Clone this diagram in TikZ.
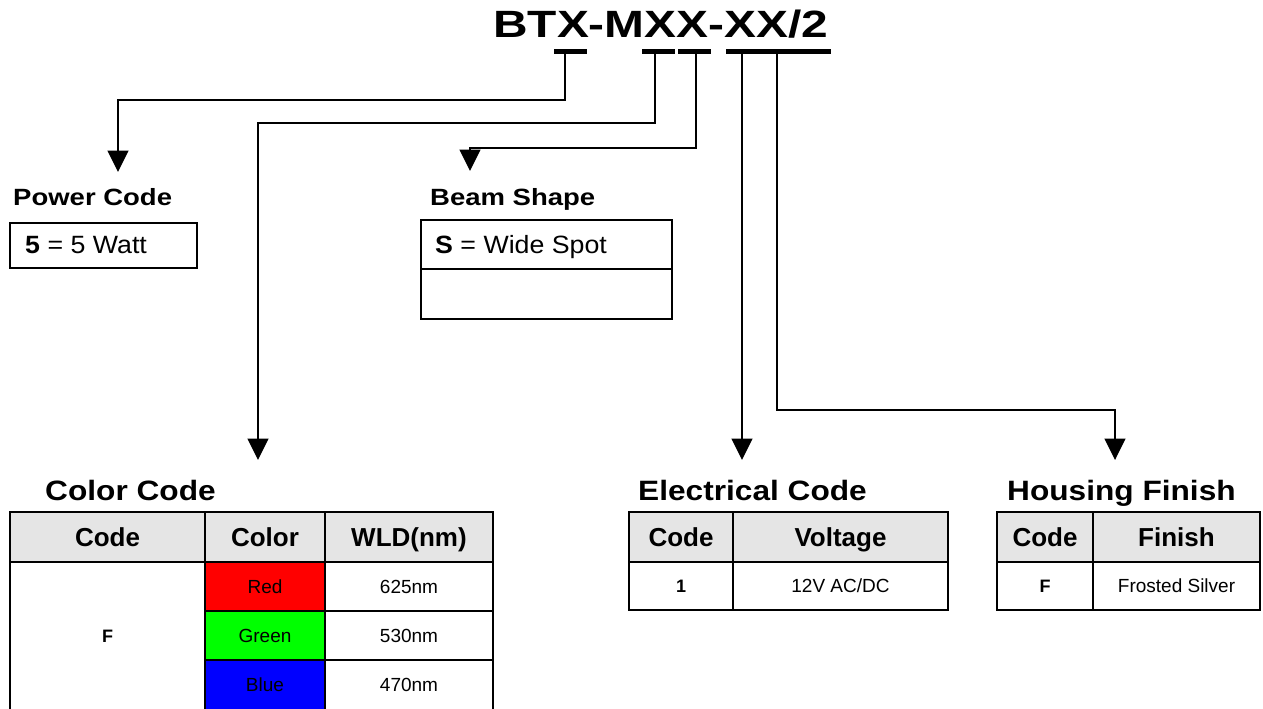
\documentclass[tikz,border=0pt]{standalone}
\usepackage{fontspec}
\setmainfont{Liberation Sans}
\newfontfamily\titlefam[FakeStretch=1.26]{Liberation Sans}
\newfontfamily\headfam[FakeStretch=1.17]{Liberation Sans}
\newfontfamily\bigheadfam[FakeStretch=1.13]{Liberation Sans}
\newfontfamily\boxfam[FakeStretch=1.07]{Liberation Sans}
\usetikzlibrary{arrows.meta}
\begin{document}
\begin{tikzpicture}[x=1pt,y=-1pt,
  conn/.style={line width=1.5pt,-{Triangle[length=21.5pt,width=21pt]}},
  bar/.style={line width=5pt},
  tbl/.style={line width=2.2pt},
  hfill/.style={fill=black!10},
  bigh/.style={anchor=base west,inner sep=0pt,font=\bigheadfam\fontsize{28}{32}\selectfont\bfseries},
  smallh/.style={anchor=base west,inner sep=0pt,font=\headfam\fontsize{23.5}{28}\selectfont\bfseries},
  colh/.style={inner sep=0pt,text height=18.6pt,text depth=0pt,font=\fontsize{26}{30}\selectfont\bfseries},
  cell/.style={inner sep=0pt,text height=13.6pt,text depth=0pt,font=\fontsize{19}{22}\selectfont},
  bcell/.style={inner sep=0pt,text height=12.9pt,text depth=0pt,font=\fontsize{18}{22}\selectfont\bfseries},
  boxtxt/.style={anchor=base west,inner sep=0pt,font=\boxfam\fontsize{25}{28}\selectfont}]
\useasboundingbox (0,0) rectangle (1263,709);

% Title
\node[anchor=base west,inner sep=0pt,font=\titlefam\fontsize{38}{44}\selectfont\bfseries] (title) at (493,37.5) {BTX-MXX-XX/2};
\draw[bar] (554,51.5) -- (587,51.5);
\draw[bar] (642,51.5) -- (675,51.5);
\draw[bar] (678,51.5) -- (711,51.5);
\draw[bar] (726,51.5) -- (831,51.5);
\coordinate (u1) at (565,54);
\coordinate (u2) at (655,54);
\coordinate (u3) at (696,54);
\coordinate (u4) at (742,54);
\coordinate (u5) at (777,54);

% Arrow tips
\coordinate (tipPower) at (118,172);
\coordinate (tipColor) at (258,460);
\coordinate (tipBeam) at (470,171);
\coordinate (tipElec) at (742,460);
\coordinate (tipHous) at (1115,460);

\draw[conn] (u1) |- (118,100) -- (tipPower);
\draw[conn] (u2) |- (258,123) -- (tipColor);
\draw[conn] (u3) |- (470,148) -- (tipBeam);
\draw[conn] (u4) -- (tipElec);
\draw[conn] (u5) |- (1115,410) -- (tipHous);

% Power Code
\node[smallh] (powerh) at (13,205) {Power Code};
\draw[tbl] (10,223) rectangle (197,268);
\node[boxtxt] (powert) at (25,253) {\textbf{5} = 5 Watt};

% Beam Shape
\node[smallh] (beamh) at (430,205) {Beam Shape};
\draw[tbl] (421,220) rectangle (672,319);
\draw[tbl] (421,269) -- (672,269);
\node[boxtxt] (beamt) at (435,253) {\textbf{S} = Wide Spot};

% Color Code
\node[bigh] (colorh) at (45,500) {Color Code};
\fill[hfill] (10,512) rectangle (493,562);
\fill[red] (205,562) rectangle (325,611);
\fill[green] (205,611) rectangle (325,660);
\fill[blue] (205,660) rectangle (325,709);
\draw[tbl] (10,709) -- (10,512) -- (493,512) -- (493,709);
\draw[tbl] (205,512) -- (205,709);
\draw[tbl] (325,512) -- (325,709);
\draw[tbl] (10,562) -- (493,562);
\draw[tbl] (205,611) -- (493,611);
\draw[tbl] (205,660) -- (493,660);
\node[colh] (cc1) at (107.5,537.5) {Code};
\node[colh] (cc2) at (265,537.5) {Color};
\node[colh] (cc3) at (409,537.5) {WLD(nm)};
\node[bcell] (ccF) at (107.5,636) {F};
\node[cell] (ccR) at (265,586.5) {Red};
\node[cell] (ccG) at (265,635.5) {Green};
\node[cell] (ccB) at (265,684.5) {Blue};
\node[cell] (ccw1) at (409,586.5) {625nm};
\node[cell] (ccw2) at (409,635.5) {530nm};
\node[cell] (ccw3) at (409,684.5) {470nm};

% Electrical Code
\node[bigh] (elech) at (638,500) {Electrical Code};
\fill[hfill] (629,512) rectangle (948,562);
\draw[tbl] (629,512) rectangle (948,610);
\draw[tbl] (629,562) -- (948,562);
\draw[tbl] (733,512) -- (733,610);
\node[colh] (ec1) at (681,537.5) {Code};
\node[colh] (ec2) at (840.5,537.5) {Voltage};
\node[bcell] (ec3) at (681,586) {1};
\node[cell] (ec4) at (840.5,586) {12V AC/DC};

% Housing Finish
\node[bigh] (housh) at (1007,500) {Housing Finish};
\fill[hfill] (997,512) rectangle (1260,562);
\draw[tbl] (997,512) rectangle (1260,610);
\draw[tbl] (997,562) -- (1260,562);
\draw[tbl] (1093,512) -- (1093,610);
\node[colh] (hc1) at (1045,537.5) {Code};
\node[colh] (hc2) at (1176.5,537.5) {Finish};
\node[bcell] (hc3) at (1045,586) {F};
\node[cell] (hc4) at (1176.5,586) {Frosted Silver};
\end{tikzpicture}
\end{document}
